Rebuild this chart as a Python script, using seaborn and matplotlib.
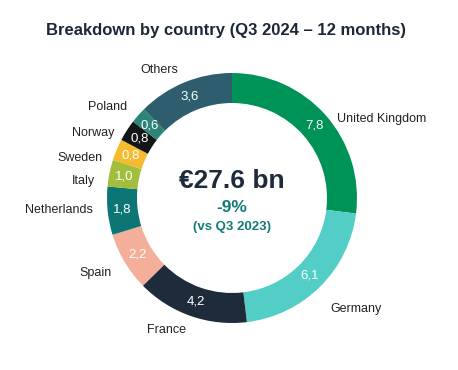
import matplotlib

matplotlib.use("Agg")
import matplotlib.pyplot as plt
import numpy as np
import seaborn as sns

sns.set_theme(style="white")
plt.rcParams["font.family"] = ["Liberation Sans", "DejaVu Sans"]

# data (EUR bn, clockwise from 12 o'clock)
countries = ["United Kingdom", "Germany", "France", "Spain", "Netherlands",
             "Italy", "Sweden", "Norway", "Poland", "Others"]
values = [7.8, 6.1, 4.2, 2.2, 1.8, 1.0, 0.8, 0.8, 0.6, 3.6]
colors = ["#009358", "#52CEC6", "#1E2B3A", "#F3AF9A", "#0B7674",
          "#A2BE3C", "#F6BA2E", "#121619", "#2D8479", "#2E5E6E"]
total_text = "€27.6 bn"
change_text = "-9%"
ref_text = "(vs Q3 2023)"
title = "Breakdown by country (Q3 2024 – 12 months)"

# small vertical nudges for the outside labels (pixels, + = down)
label_dy = [14, 12, 0, 3, -2, 11, 14, 11, 2, 1]

W, H = 458, 370
cx, cy, R, ring = 232, 198, 125, 30

fig = plt.figure(figsize=(W / 100, H / 100), dpi=100)
ax = fig.add_axes([0, 0, 1, 1])
ax.set_aspect("equal")
ax.axis("off")

ax.pie(values, colors=colors, startangle=90, counterclock=False,
       center=(cx, H - cy), radius=R,
       wedgeprops=dict(width=ring, linewidth=0))
ax.set_xlim(0, W)
ax.set_ylim(0, H)

tot = sum(values)
cum = 0.0
for name, v, dy in zip(countries, values, label_dy):
    a0 = 90 - cum / tot * 360
    a1 = 90 - (cum + v) / tot * 360
    cum += v
    mid = np.deg2rad((a0 + a1) / 2)
    # value inside the ring
    r_in = R - ring / 2
    ax.text(cx + r_in * np.cos(mid), H - cy + r_in * np.sin(mid),
            f"{v:.1f}".replace(".", ","), color="white", fontsize=9.5,
            ha="center", va="center")
    # country name outside
    r_out = 140
    ha = "left" if np.cos(mid) > 0 else "right"
    ax.text(cx + r_out * np.cos(mid), H - cy + r_out * np.sin(mid) - dy,
            name, color="#222222", fontsize=9, ha=ha, va="center")

ax.text(cx, H - 181, total_text, fontsize=19, fontweight="bold",
        color="#1E2B3A", ha="center", va="center")
ax.text(cx, H - 207, change_text, fontsize=12.5, fontweight="bold",
        color="#137A77", ha="center", va="center")
ax.text(cx, H - 227, ref_text, fontsize=9.5, fontweight="bold",
        color="#137A77", ha="center", va="center")

ax.text(226, H - 30, title, fontsize=12, fontweight="bold",
        color="#1C2838", ha="center", va="center")

fig.savefig("out.png", dpi=100, facecolor="white")
